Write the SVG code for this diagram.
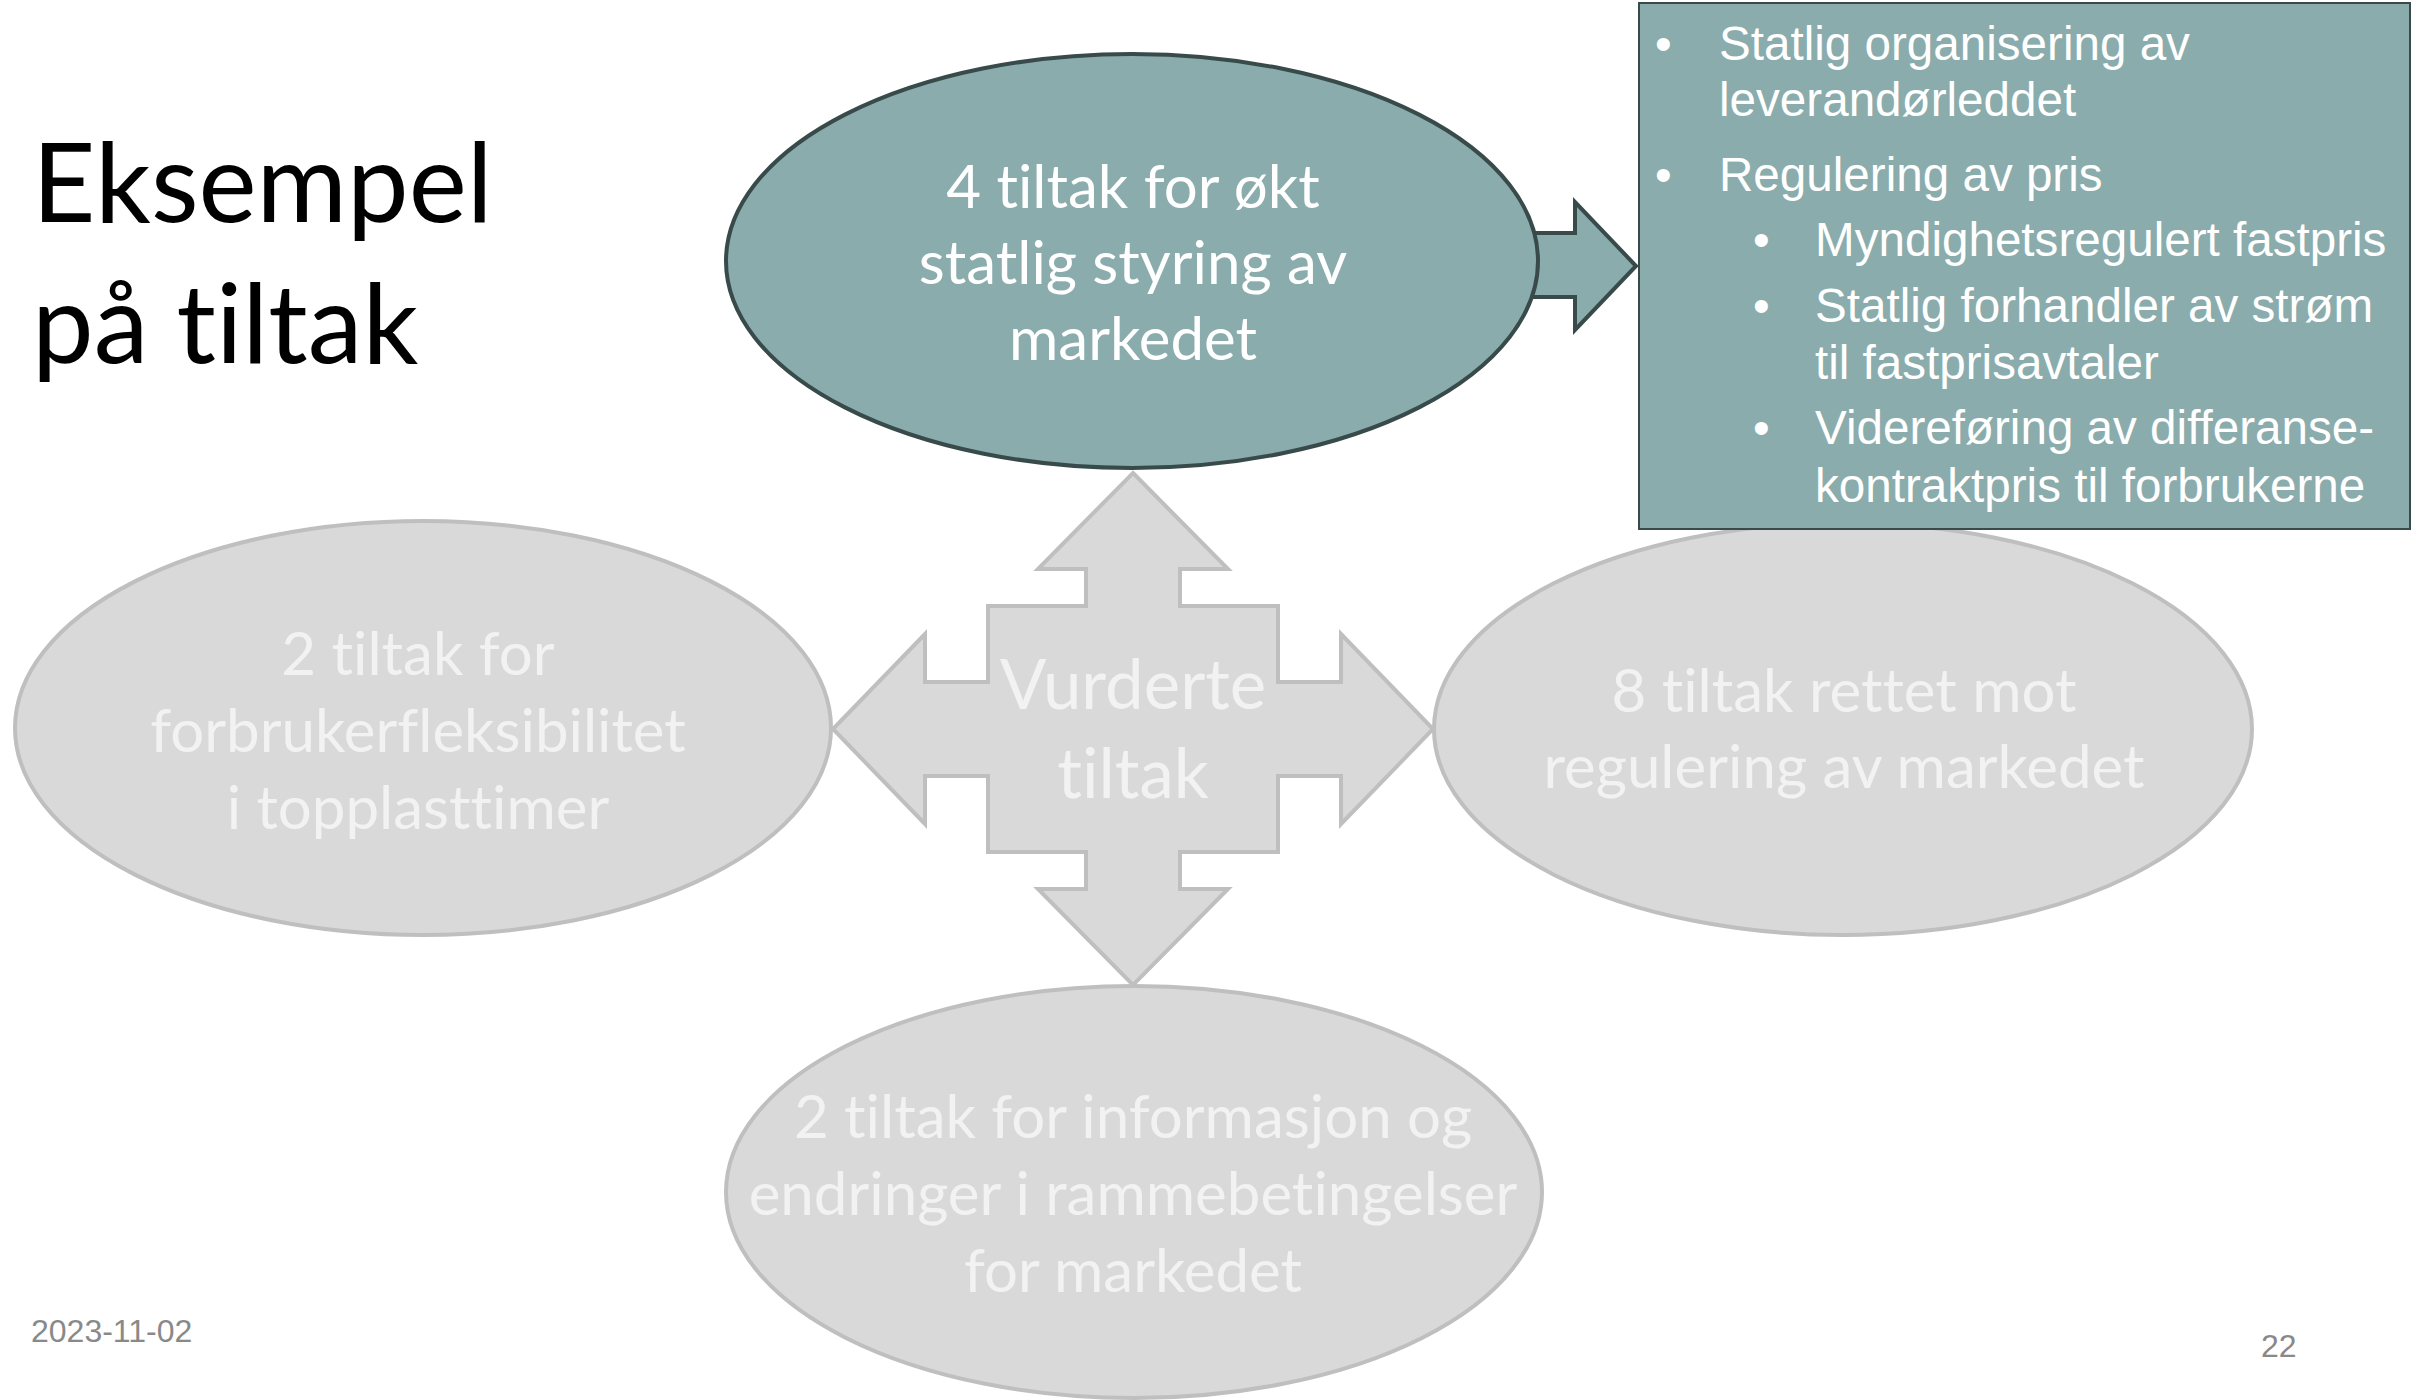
<svg xmlns="http://www.w3.org/2000/svg" width="2412" height="1400" viewBox="0 0 2412 1400">
<style>
.title{font-family:"Lato","Liberation Sans",sans-serif;font-size:110px;fill:#000;font-variant-ligatures:none;font-feature-settings:"liga" 0}
.ctext{font-family:"Lato","Liberation Sans",sans-serif;font-size:60px;text-anchor:middle;font-variant-ligatures:none;font-feature-settings:"liga" 0}
.w{fill:#ffffff}
.g{fill:#f2f2f2}
.teal{fill:#8aacac;stroke:#384a4a;stroke-width:4}
.grey{fill:#d9d9d9;stroke:#bfbfbf;stroke-width:4}
.box{font-family:"Liberation Sans",Arial,sans-serif;font-size:47.6px;fill:#ffffff}
.foot{font-family:"Liberation Sans",Arial,sans-serif;font-size:32px;fill:#898989}
</style>
<rect width="2412" height="1400" fill="#ffffff"/>
<g id="title">
<text class="title" x="32" y="222">Eksempel</text>
<text class="title" x="32" y="363">på tiltak</text>
</g>
<g id="connectors">
<path id="cross" class="grey" d="M1133 473 L1228 569 L1180 569 L1180 606 L1278 606 L1278 682 L1341 682 L1341 634 L1433 729 L1341 824 L1341 776 L1278 776 L1278 852 L1180 852 L1180 889 L1228 889 L1133 985 L1038 889 L1086 889 L1086 852 L988 852 L988 776 L925 776 L925 824 L833 729 L925 634 L925 682 L988 682 L988 606 L1086 606 L1086 569 L1038 569 Z"/>
<path id="arrow-right" class="teal" d="M1530 233 L1575 233 L1575 202 L1636 266 L1575 330 L1575 297 L1530 297 Z"/>
</g>
<g id="center">
<text class="ctext g" x="1133" y="709" style="font-size:69px">Vurderte</text>
<text class="ctext g" x="1133" y="798" style="font-size:69px">tiltak</text>
</g>
<g id="node-top">
<ellipse class="teal" cx="1132" cy="261" rx="406" ry="207"/>
<text class="ctext w" x="1133" y="208">4 tiltak for økt</text>
<text class="ctext w" x="1133" y="284">statlig styring av</text>
<text class="ctext w" x="1133" y="360">markedet</text>
</g>
<g id="node-left">
<ellipse class="grey" cx="423" cy="728" rx="408" ry="207"/>
<text class="ctext g" x="418" y="675">2 tiltak for</text>
<text class="ctext g" x="418" y="752">forbrukerfleksibilitet</text>
<text class="ctext g" x="418" y="829">i topplasttimer</text>
</g>
<g id="node-right">
<ellipse class="grey" cx="1843" cy="729" rx="409" ry="206"/>
<text class="ctext g" x="1844" y="712">8 tiltak rettet mot</text>
<text class="ctext g" x="1844" y="788">regulering av markedet</text>
</g>
<g id="node-bottom">
<ellipse class="grey" cx="1134" cy="1192" rx="408" ry="206"/>
<text class="ctext g" x="1133" y="1138">2 tiltak for informasjon og</text>
<text class="ctext g" x="1133" y="1215">endringer i rammebetingelser</text>
<text class="ctext g" x="1133" y="1292">for markedet</text>
</g>
<g id="detail-box">
<rect x="1639" y="3" width="771" height="526" fill="#8aacac" stroke="#384a4a" stroke-width="2"/>
<text class="box" x="1655" y="60">•</text>
<text class="box" x="1719" y="60">Statlig organisering av</text>
<text class="box" x="1719" y="116">leverandørleddet</text>
<text class="box" x="1655" y="191">•</text>
<text class="box" x="1719" y="191">Regulering av pris</text>
<text class="box" x="1753" y="256">•</text>
<text class="box" x="1815" y="256">Myndighetsregulert fastpris</text>
<text class="box" x="1753" y="322">•</text>
<text class="box" x="1815" y="322">Statlig forhandler av strøm</text>
<text class="box" x="1815" y="379">til fastprisavtaler</text>
<text class="box" x="1753" y="444">•</text>
<text class="box" x="1815" y="444">Videreføring av differanse-</text>
<text class="box" x="1815" y="502">kontraktpris til forbrukerne</text>
</g>
<g id="footer">
<text class="foot" x="31" y="1342">2023-11-02</text>
<text class="foot" x="2261" y="1357">22</text>
</g>
</svg>
